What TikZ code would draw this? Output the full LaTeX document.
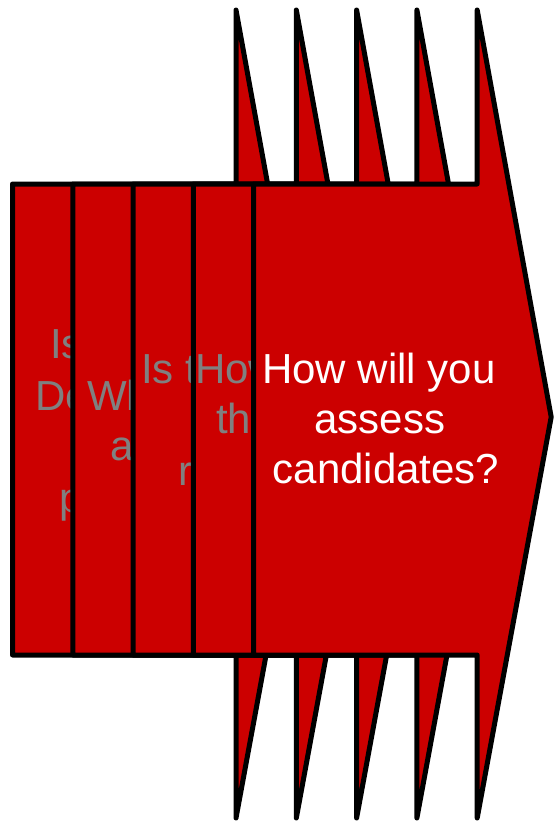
\documentclass[tikz,border=0pt]{standalone}
\usepackage{fontspec}
\setmainfont{Liberation Sans}
\definecolor{arrowred}{RGB}{204,0,0}
\definecolor{ghost}{RGB}{128,128,128}
\newcommand\drawblockarrow[1]{%
  \draw[blockarrow] (#1,184) -- (#1+223.5,184) -- (#1+223.5,10) -- (#1+297.5,417)
    -- (#1+223.5,818) -- (#1+223.5,655) -- (#1,655) -- cycle;}
\begin{document}
\begin{tikzpicture}[x=1pt,y=-1pt,
  blockarrow/.style={fill=arrowred,draw=black,line width=5pt,line join=round},
  backtext/.style={anchor=base west,inner sep=0pt,text=ghost,font=\fontsize{42}{50}\selectfont},
  fronttext/.style={anchor=base,inner sep=0pt,text=white,font=\fontsize{42}{50}\selectfont}]
\useasboundingbox (0,0) rectangle (555,828);
% arrow 0
\drawblockarrow{12.5}
\node[backtext] (a0l1) at (50,358) {Is th};
\node[backtext] (a0l2) at (35,410) {Dem};
\node[backtext] (a0l4) at (59,512) {peo};
% arrow 1
\drawblockarrow{72.8}
\node[backtext] (a1l1) at (87,410) {What};
\node[backtext] (a1l2) at (110,460) {an};
% arrow 2
\drawblockarrow{133.1}
\node[backtext] (a2l1) at (141,383) {Is th};
\node[backtext] (a2l3) at (178,485) {ri};
% arrow 3
\drawblockarrow{193.4}
\node[backtext] (a3l1) at (195,383) {How};
\node[backtext] (a3l2) at (216,433) {the};
% arrow 4
\drawblockarrow{253.7}
\node[fronttext] (a4l1) at (379,383) {How will you};
\node[fronttext] (a4l2) at (380,433) {assess};
\node[fronttext] (a4l3) at (386,483) {candidates?};
\end{tikzpicture}
\end{document}
